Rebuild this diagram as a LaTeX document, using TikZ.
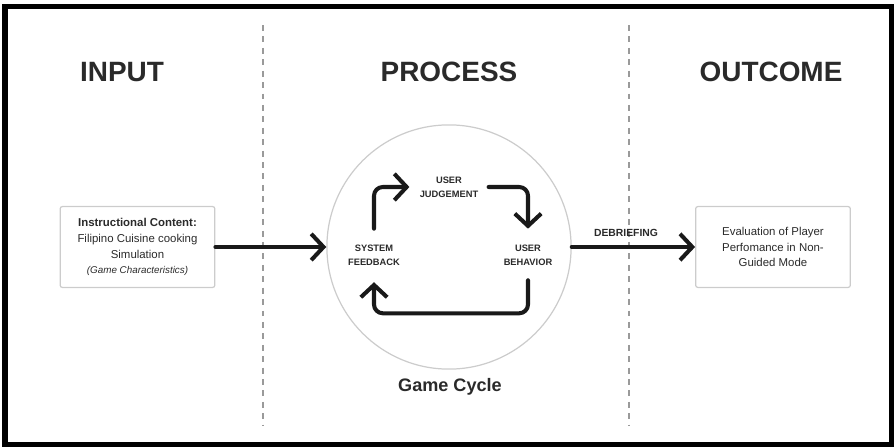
\documentclass[tikz,border=0pt]{standalone}
\usepackage{fontspec}
\setmainfont{Liberation Sans}
\usetikzlibrary{positioning}
\usetikzlibrary{arrows.meta}

\definecolor{inkgray}{HTML}{2A2A2A}
\definecolor{linegray}{HTML}{CCCCCC}
\definecolor{dashgray}{HTML}{9A9A9A}

\begin{document}
\begin{tikzpicture}[
    x=0.02cm, y=-0.02cm,
    heading/.style={
        inner sep=0pt,
        text=inkgray,
        font=\fontsize{15.9}{18}\selectfont\bfseries
    },
    box/.style={
        rectangle,
        rounded corners=1.2pt,
        draw=linegray,
        line width=0.7pt,
        minimum width=88pt,
        minimum height=46pt,
        align=center,
        text=inkgray,
        font=\fontsize{6.5}{9}\selectfont
    },
    steplabel/.style={
        inner sep=0pt,
        align=center,
        text=inkgray,
        font=\fontsize{5.3}{8}\selectfont\bfseries
    },
    divider/.style={dashgray, line width=0.6pt, dash pattern=on 3.4pt off 3.1pt},
    flow/.style={
        ->, >={Straight Barb[length=7pt,width=15pt]},
        line width=2.3pt, line cap=round, line join=round, color=black!90
    },
    cycleflow/.style={flow, rounded corners=5pt}
]
\useasboundingbox (0,0) rectangle (894,447);
\draw[line width=3.2pt] (5,6.5) rectangle (891.5,444.5);

\draw[divider] (263,25) -- (263,425);
\draw[divider] (629,25) -- (629,425);

\node [heading] (input) at (122,72) {INPUT};
\node [heading] (process) at (449,72) {PROCESS};
\node [heading] (outcome) at (771,72) {OUTCOME};

\node [box] (content) at (137.5,247) {\textbf{Instructional Content:}\\Filipino Cuisine cooking\\Simulation\\{\fontsize{5.6}{8}\selectfont\itshape (Game Characteristics)}};
\node [box] (result) at (773,247) {Evaluation of Player\\Perfomance in Non-\\Guided Mode};

\node [circle, draw=linegray, line width=0.7pt, minimum size=139pt, inner sep=0pt] (cycle) at (449,247) {};
\node [anchor=base, inner sep=0pt, text=inkgray, font=\fontsize{10.3}{12}\selectfont\bfseries] (cyclename) at (450,391) {Game Cycle};

\node [steplabel] (judge) at (449,187) {USER\\JUDGEMENT};
\node [steplabel] (feedback) at (374,255) {SYSTEM\\FEEDBACK};
\node [steplabel] (behavior) at (528,255) {USER\\BEHAVIOR};

\draw[cycleflow, shorten <=8.9pt, shorten >=5.7pt] (feedback.north) |- (judge.west);
\draw[cycleflow, shorten <=5.7pt, shorten >=8.9pt] (judge.east) -| (behavior.north);
\draw[cycleflow, shorten <=8.3pt, shorten >=9.4pt] (behavior.south) -- ++(0,47.6) -| (feedback.south);

\draw[flow] (content.east) -- (cycle.west);
\draw[flow] (cycle.east) -- node[pos=0.44, above=5pt, inner sep=0pt, text=inkgray, font=\fontsize{5.9}{7}\selectfont\bfseries] (debrief) {DEBRIEFING} (result.west);
\end{tikzpicture}
\end{document}
